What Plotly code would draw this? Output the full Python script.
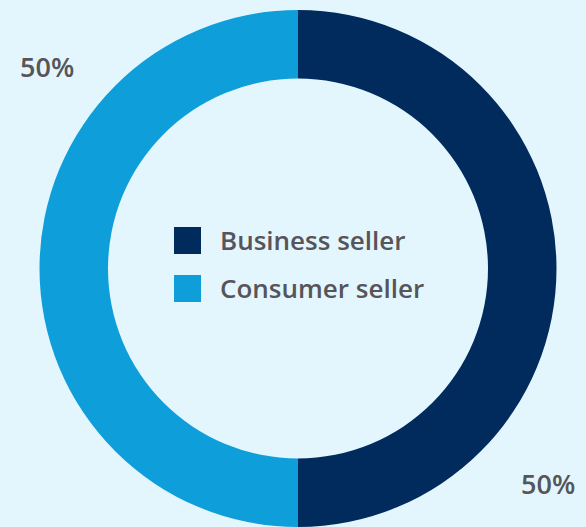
import plotly.graph_objects as go

W, H = 586, 527

categories = ["Business seller", "Consumer seller"]
shares = [50, 50]
share_labels = ["50%", "50%"]
colors = ["#002b5c", "#0e9ed9"]

bg = "#e3f6fd"
txt = "#57545a"
font_family = "Open Sans, Lato, sans-serif"


def px(x):
    return x / W


def py(y):
    return 1 - y / H


fig = go.Figure(go.Pie(
    labels=categories,
    values=shares,
    hole=0.735,
    sort=False,
    direction="clockwise",
    rotation=0,
    marker=dict(colors=colors, line=dict(width=0)),
    textinfo="none",
    hoverinfo="label+percent",
    domain=dict(x=[(298 - 258.5) / W, (298 + 258.5) / W], y=[0, 517 / H]),
    showlegend=False,
))

annotations = []
shapes = []

# percentage labels outside the ring (left slice top-left, right slice bottom-right)
label_pos = [(548, 483), (47, 66)]
for lab, (x, y) in zip(share_labels, label_pos):
    annotations.append(dict(
        x=px(x), y=py(y), xref="paper", yref="paper",
        text=lab, showarrow=False, xanchor="center", yanchor="middle",
        font=dict(family=font_family, size=27, color=txt, weight=600),
    ))

# centred legend drawn by hand (plotly pie swatches are too small)
for i, (cat, col) in enumerate(zip(categories, colors)):
    top = 227 + i * 48
    shapes.append(dict(
        type="rect", xref="paper", yref="paper",
        x0=px(174), x1=px(201), y0=py(top + 27), y1=py(top),
        fillcolor=col, line=dict(width=0),
    ))
    annotations.append(dict(
        x=px(218), y=py(top + 13), xref="paper", yref="paper",
        text=cat, showarrow=False, xanchor="left", yanchor="middle",
        font=dict(family=font_family, size=26, color=txt, weight=600),
    ))

fig.update_layout(
    width=W, height=H,
    margin=dict(l=0, r=0, t=0, b=0),
    paper_bgcolor=bg,
    plot_bgcolor=bg,
    annotations=annotations,
    shapes=shapes,
)

# drop the browser's default 8px body margin so the figure sits at 0,0
fig.write_html("out.html", config={"displayModeBar": False},
               post_script="document.body.style.margin='0';")
